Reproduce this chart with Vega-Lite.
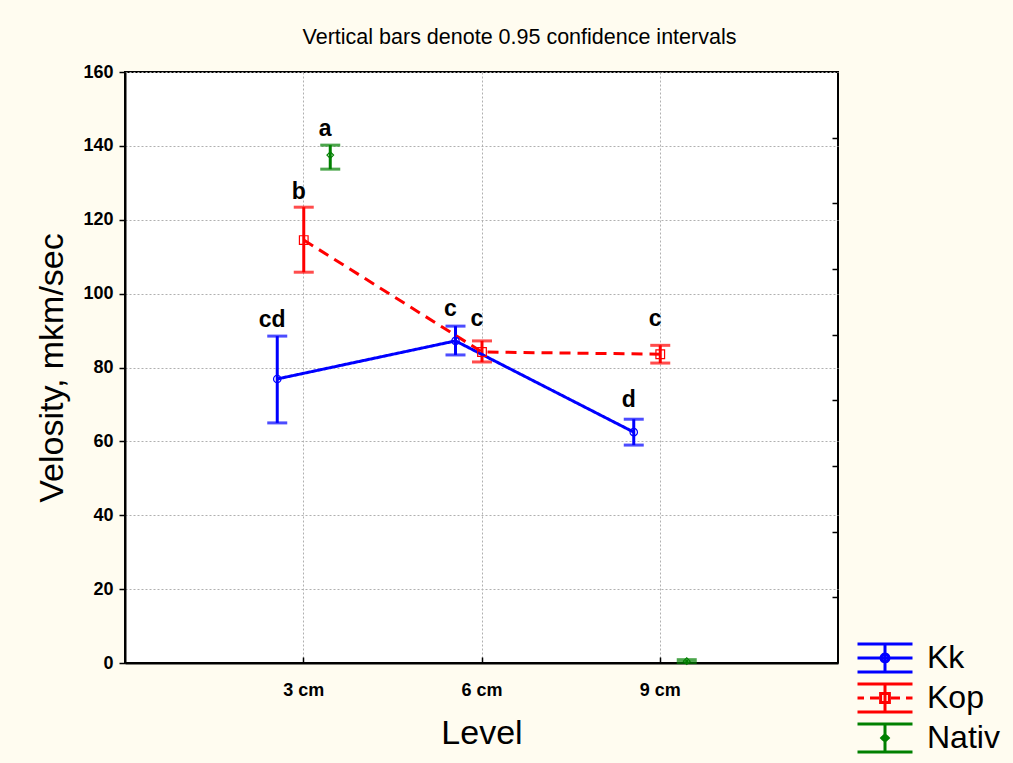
{
  "$schema": "https://vega.github.io/schema/vega-lite/v6.json",
  "width": 713,
  "height": 591,
  "autosize": "none",
  "padding": {"left": 125, "top": 72, "right": 175, "bottom": 100},
  "background": "#fffcf0",
  "config": {
    "view": {"stroke": "#000000", "strokeWidth": 2, "fill": "#ffffff"},
    "font": "Liberation Sans"
  },
  "title": {
    "text": "Vertical bars denote 0.95 confidence intervals",
    "font": "Liberation Sans",
    "fontSize": 21.5,
    "fontWeight": "normal",
    "color": "#000000",
    "dx": 38,
    "offset": 15
  },
  "data": {
    "values": [
      {"series": "Kk", "level": "3 cm", "mean": 76.9, "lo": 65.0, "hi": 88.5, "label": "cd", "ly": 91.0},
      {"series": "Kk", "level": "6 cm", "mean": 87.2, "lo": 83.4, "hi": 91.2, "label": "c", "ly": 93.9},
      {"series": "Kk", "level": "9 cm", "mean": 62.5, "lo": 59.0, "hi": 66.0, "label": "d", "ly": 69.3},
      {"series": "Kop", "level": "3 cm", "mean": 114.5, "lo": 105.8, "hi": 123.4, "label": "b", "ly": 125.6},
      {"series": "Kop", "level": "6 cm", "mean": 84.2, "lo": 81.5, "hi": 87.2, "label": "c", "ly": 91.2},
      {"series": "Kop", "level": "9 cm", "mean": 83.6, "lo": 81.2, "hi": 86.0, "label": "c", "ly": 91.2},
      {"series": "Nativ", "level": "3 cm", "mean": 137.5, "lo": 133.7, "hi": 140.2, "label": "a", "ly": 142.7},
      {"series": "Nativ", "level": "9 cm", "mean": 0.5, "lo": 0.1, "hi": 0.9, "label": null, "ly": null}
    ]
  },
  "encoding": {
    "x": {
      "field": "level",
      "type": "ordinal",
      "scale": {"type": "point", "domain": ["3 cm", "6 cm", "9 cm"], "padding": 1},
      "axis": {
        "title": "Level",
        "titleFontSize": 34,
        "titleFontWeight": "normal",
        "titleColor": "#000000",
        "titlePadding": 17,
        "labelAngle": 0,
        "labelFontSize": 18,
        "labelFontWeight": "bold",
        "labelColor": "#000000",
        "labelPadding": 24,
        "tickSize": -6,
        "tickColor": "#000000",
        "tickWidth": 1.5,
        "domainColor": "#000000",
        "domainWidth": 2,
        "grid": true,
        "gridColor": "#b0b0b0",
        "gridDash": [2, 2],
        "gridWidth": 1
      }
    },
    "xOffset": {
      "field": "series",
      "type": "nominal",
      "scale": {"type": "point", "domain": ["Kk", "Kop", "Nativ"], "range": [-26, 27], "padding": 0}
    },
    "color": {
      "field": "series",
      "type": "nominal",
      "scale": {"domain": ["Kk", "Kop", "Nativ"], "range": ["#0000ff", "#ff0000", "#008000"]},
      "legend": {
        "title": null,
        "orient": "none",
        "legendX": 731,
        "legendY": 566,
        "padding": 0,
        "rowPadding": 0,
        "clipHeight": 40,
        "symbolSize": 3025,
        "symbolStrokeWidth": 3,
        "symbolFillColor": "transparent",
        "labelFontSize": 32,
        "labelColor": "#000000",
        "labelOffset": 13,
        "labelLimit": 200,
        "encode": {
          "symbols": {
            "update": {
              "shape": {"signal": "datum.value === 'Kk' ? 'M-1,-0.509H1M-1,0H1M-1,0.509H1M0,-0.509V0.509M0.145,0A0.145,0.145 0 1,1 -0.145,0A0.145,0.145 0 1,1 0.145,0' : datum.value === 'Kop' ? 'M-1,-0.509H1M-1,0.509H1M0,-0.509V0.509M-1,0H-0.764M-0.545,0H-0.218M0.218,0H0.545M0.764,0H1M-0.16,-0.16H0.16V0.16H-0.16Z' : 'M-1,-0.509H1M-1,0.509H1M0,-0.509V0.509M0,-0.116L0.116,0L0,0.116L-0.116,0Z'"},
              "stroke": {"signal": "scale('color', datum.value)"},
              "fill": {"value": "transparent"},
              "fillOpacity": {"value": 0},
              "strokeWidth": {"value": 3},
              "strokeDash": {"value": [1, 0]},
              "opacity": {"value": 1}
            }
          }
        }
      }
    }
  },
  "layer": [
    {
      "mark": {"type": "rule", "strokeWidth": 3},
      "encoding": {
        "y": {
          "field": "lo",
          "type": "quantitative",
          "scale": {"domain": [0, 160], "nice": false},
          "axis": {
            "title": "Velosity, mkm/sec",
            "titleFontSize": 34,
            "titleFontWeight": "normal",
            "titleColor": "#000000",
            "titlePadding": 13,
            "values": [0, 20, 40, 60, 80, 100, 120, 140, 160],
            "labelFontSize": 18,
            "labelFontWeight": "bold",
            "labelColor": "#000000",
            "labelPadding": 6,
            "tickSize": 6,
            "tickColor": "#000000",
            "tickWidth": 1.5,
            "domainColor": "#000000",
            "domainWidth": 2,
            "grid": true,
            "gridColor": "#b0b0b0",
            "gridDash": [2, 2],
            "gridWidth": 1
          }
        },
        "y2": {"field": "hi"}
      }
    },
    {
      "mark": {"type": "tick", "thickness": 3, "size": 20},
      "encoding": {
        "y": {
          "field": "lo",
          "type": "quantitative",
          "axis": {
            "orient": "right",
            "title": null,
            "labels": false,
            "domain": false,
            "grid": false,
            "values": [17.778, 35.556, 53.333, 71.111, 88.889, 106.667, 124.444, 142.222],
            "tickSize": -6,
            "tickColor": "#000000",
            "tickWidth": 1.5
          }
        }
      }
    },
    {
      "mark": {"type": "tick", "thickness": 3, "size": 20},
      "encoding": {
        "y": {"field": "hi", "type": "quantitative", "axis": null}
      }
    },
    {
      "transform": [{"filter": "datum.series !== 'Nativ'"}],
      "mark": {"type": "line", "strokeWidth": 3},
      "encoding": {
        "y": {"field": "mean", "type": "quantitative", "axis": null},
        "strokeDash": {
          "field": "series",
          "type": "nominal",
          "scale": {"domain": ["Kk", "Kop"], "range": [[1, 0], [11, 7]]},
          "legend": null
        }
      }
    },
    {
      "transform": [{"filter": "datum.series === 'Kk'"}],
      "mark": {"type": "point", "shape": "circle", "filled": false, "strokeWidth": 1.2, "opacity": 1, "size": 55},
      "encoding": {
        "y": {"field": "mean", "type": "quantitative", "axis": null}
      }
    },
    {
      "transform": [{"filter": "datum.series === 'Kop'"}],
      "mark": {"type": "point", "shape": "square", "filled": false, "strokeWidth": 1.2, "opacity": 1, "size": 75},
      "encoding": {
        "y": {"field": "mean", "type": "quantitative", "axis": null}
      }
    },
    {
      "transform": [{"filter": "datum.series === 'Nativ'"}],
      "mark": {"type": "point", "shape": "diamond", "filled": false, "strokeWidth": 1.2, "opacity": 1, "size": 45},
      "encoding": {
        "y": {"field": "mean", "type": "quantitative", "axis": null}
      }
    },
    {
      "transform": [{"filter": "datum.label != null"}],
      "mark": {"type": "text", "fontSize": 23, "fontWeight": "bold", "baseline": "alphabetic", "dx": -5, "color": "#000000"},
      "encoding": {
        "y": {"field": "ly", "type": "quantitative", "axis": null},
        "text": {"field": "label"},
        "color": {"value": "#000000"}
      }
    }
  ],
  "resolve": {"axis": {"y": "independent"}}
}
